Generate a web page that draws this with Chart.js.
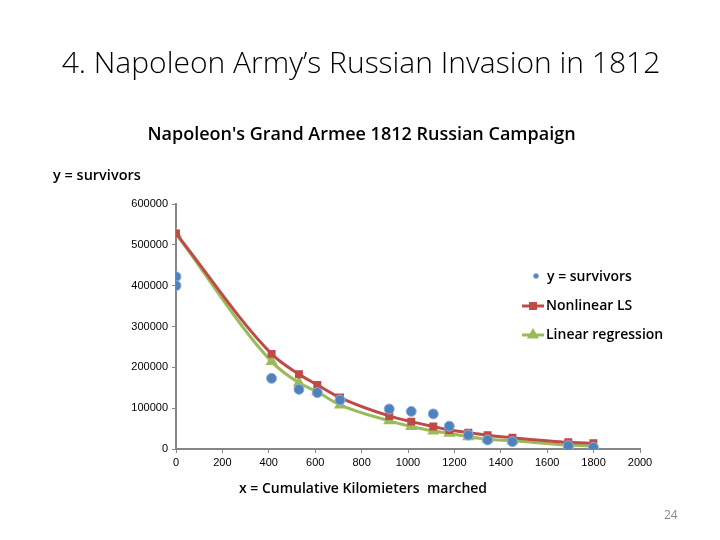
<!DOCTYPE html>
<html>
<head>
<meta charset="utf-8">
<script src="https://cdn.jsdelivr.net/npm/chart.js@4"></script>
<style>
  html, body { margin: 0; padding: 0; background: #fff; }
  #wrap { position: relative; width: 720px; height: 540px; overflow: hidden; font-family: "Open Sans", "Noto Sans", sans-serif; }
  #chart { position: absolute; left: 0; top: 0; }
  .txt { position: absolute; white-space: pre; color: #000; }
  #slideTitle { left: 0; width: 722px; top: 41px; text-align: center; font-size: 30px; font-weight: 300; }
  #chartTitle { left: 0; width: 723px; top: 121px; text-align: center; font-size: 18px; font-weight: 600; }
  #yTitle { left: 53px; top: 165px; font-size: 14.5px; font-weight: 600; }
  #xTitle { left: 0; width: 726px; top: 478px; text-align: center; font-size: 14px; font-weight: 600; }
  #pageNo { left: 664px; top: 506px; font-size: 12px; color: #8a8a8a; }
</style>
</head>
<body>
<div id="wrap">
  <canvas id="chart" width="720" height="540"></canvas>
  <div class="txt" id="slideTitle">4. Napoleon Army’s Russian Invasion in 1812</div>
  <div class="txt" id="chartTitle">Napoleon's Grand Armee 1812 Russian Campaign</div>
  <div class="txt" id="yTitle">y = survivors</div>
  <div class="txt" id="xTitle">x = Cumulative Kilomieters  marched</div>
  <div class="txt" id="pageNo">24</div>
</div>
<script>
// observed survivors
const kmMarched = [0, 0, 412, 530, 609, 707, 919, 1014, 1109, 1178, 1260, 1343, 1450, 1691, 1799];
const survivors = [422000, 400000, 173000, 146000, 138000, 120000, 98000, 92000, 86000, 56000, 34000, 22000, 18000, 8000, 4000];

// fitted curves
const fitKm = [0, 412, 530, 609, 707, 919, 1014, 1109, 1178, 1260, 1343, 1450, 1691, 1799];
const nonlinearLS = [528000, 233000, 183000, 157000, 126000, 81000, 67000, 55000, 46500, 40000, 33500, 27700, 16400, 14000];
const linearRegression = [527000, 214000, 162000, 140000, 108000, 69000, 55000, 44000, 38400, 30100, 23800, 20300, 9800, 7300];

const seriesNames = ['y = survivors', 'Nonlinear LS', 'Linear regression'];
const xTicks = [0, 200, 400, 600, 800, 1000, 1200, 1400, 1600, 1800, 2000];
const yTicks = [0, 100000, 200000, 300000, 400000, 500000, 600000];

const toPoints = (xs, ys) => xs.map((x, i) => ({ x: x, y: ys[i] }));

// legend drawn at a fixed spot that overlaps the plot area, like the original
const sideLegend = {
  id: 'sideLegend',
  afterDraw(chart) {
    const ctx = chart.ctx;
    const rows = [277, 306, 335];
    ctx.save();
    ctx.font = '600 14px "Open Sans", "Noto Sans", sans-serif';
    ctx.textBaseline = 'middle';
    chart.data.datasets.forEach((ds, i) => {
      const y = rows[i];
      if (ds.showLine) {
        ctx.strokeStyle = ds.borderColor;
        ctx.lineWidth = 3;
        ctx.beginPath();
        ctx.moveTo(522, y);
        ctx.lineTo(544, y);
        ctx.stroke();
        ctx.fillStyle = ds.pointBackgroundColor;
        ctx.strokeStyle = ds.pointBorderColor;
        Chart.helpers.drawPoint(ctx, { pointStyle: ds.pointStyle, radius: ds.pointRadius, borderWidth: 1 }, 533, y);
        ctx.fillStyle = '#000';
        ctx.fillText(seriesNames[i], 546, y);
      } else {
        ctx.fillStyle = ds.pointBackgroundColor;
        ctx.strokeStyle = ds.pointBorderColor;
        Chart.helpers.drawPoint(ctx, { pointStyle: 'circle', radius: 2.5, borderWidth: 1 }, 536, y - 1);
        ctx.fillStyle = '#000';
        ctx.fillText(seriesNames[i], 547, y);
      }
    });
    ctx.restore();
  }
};

new Chart(document.getElementById('chart'), {
  type: 'scatter',
  data: {
    datasets: [
      {
        label: seriesNames[0],
        data: toPoints(kmMarched, survivors),
        showLine: false,
        pointStyle: 'circle',
        pointRadius: 5,
        pointBackgroundColor: '#4f81bd',
        pointBorderColor: '#8fb0dc',
        pointBorderWidth: 1,
      },
      {
        label: seriesNames[1],
        data: toPoints(fitKm, nonlinearLS),
        showLine: true,
        borderColor: '#be4b48',
        borderWidth: 3,
        cubicInterpolationMode: 'monotone',
        pointStyle: 'rect',
        pointRadius: 3.5,
        pointBackgroundColor: '#be4b48',
        pointBorderColor: '#be4b48',
      },
      {
        label: seriesNames[2],
        data: toPoints(fitKm, linearRegression),
        showLine: true,
        borderColor: '#9bbb59',
        borderWidth: 3,
        cubicInterpolationMode: 'monotone',
        pointStyle: 'triangle',
        pointRadius: 4,
        pointBackgroundColor: '#9bbb59',
        pointBorderColor: '#9bbb59',
      },
    ],
  },
  options: {
    responsive: false,
    animation: false,
    layout: { padding: { left: 116, right: 80, top: 204, bottom: 65 } },
    plugins: {
      legend: { display: false },
      tooltip: { enabled: false },
    },
    scales: {
      x: {
        type: 'linear',
        min: 0,
        max: 2000,
        afterFit(scale) { scale.height = 26; },
        afterBuildTicks(scale) { scale.ticks = xTicks.map(v => ({ value: v })); },
        border: { display: true, color: '#868686', width: 2 },
        grid: { drawOnChartArea: false, drawTicks: true, tickLength: 4, color: '#868686' },
        ticks: { padding: 3, color: '#000', font: { family: '"Liberation Sans", Arial, sans-serif', size: 11 }, callback: v => String(v) },
      },
      y: {
        type: 'linear',
        min: 0,
        max: 600000,
        afterFit(scale) { scale.width = 60; },
        afterBuildTicks(scale) { scale.ticks = yTicks.map(v => ({ value: v })); },
        border: { display: true, color: '#868686', width: 2 },
        grid: { drawOnChartArea: false, drawTicks: true, tickLength: 4, color: '#868686' },
        ticks: { padding: 4, color: '#000', font: { family: '"Liberation Sans", Arial, sans-serif', size: 11 }, callback: v => String(v) },
      },
    },
  },
  plugins: [sideLegend],
});
</script>
</body>
</html>
